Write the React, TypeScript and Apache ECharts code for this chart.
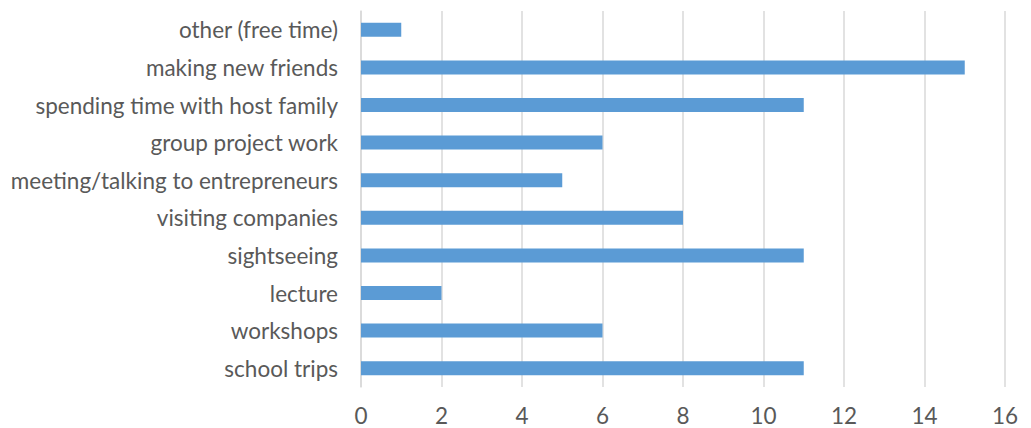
import React, { useEffect, useRef } from "react";
import * as echarts from "echarts";

const categories = [
  "school trips",
  "workshops",
  "lecture",
  "sightseeing",
  "visiting companies",
  "meeting/talking to entrepreneurs",
  "group project work",
  "spending time with host family",
  "making new friends",
  "other (free time)",
];
const values = [11, 6, 2, 11, 8, 5, 6, 11, 15, 1];
const xTicks = [0, 2, 4, 6, 8, 10, 12, 14, 16];

const FONT = "Lato";

export default function App() {
  const ref = useRef<HTMLDivElement>(null);
  useEffect(() => {
    document.body.style.margin = "0";
    const chart = echarts.init(ref.current!, null, { renderer: "svg" });
    chart.setOption({
      animation: false,
      backgroundColor: "#ffffff",
      grid: { left: 361, right: 26, top: 11, bottom: 41, containLabel: false },
      xAxis: {
        type: "value",
        min: xTicks[0],
        max: xTicks[xTicks.length - 1],
        interval: 2,
        axisLine: { show: false },
        axisTick: { show: false },
        splitLine: { show: true, lineStyle: { color: "#d9d9d9", width: 1.5 } },
        axisLabel: {
          color: "#595959",
          fontSize: 22.5,
          fontFamily: FONT,
          margin: 17,
        },
      },
      yAxis: {
        type: "category",
        data: categories,
        axisLine: { show: true, lineStyle: { color: "#d9d9d9", width: 1.5 } },
        axisTick: { show: false },
        axisLabel: {
          color: "#595959",
          fontSize: 22.5,
          fontFamily: FONT,
          margin: 23,
        },
      },
      series: [
        {
          type: "bar",
          data: values,
          barWidth: 14,
          itemStyle: { color: "#5b9bd5" },
        },
      ],
    });
    return () => chart.dispose();
  }, []);
  return <div ref={ref} style={{ width: 1031, height: 428 }} />;
}
